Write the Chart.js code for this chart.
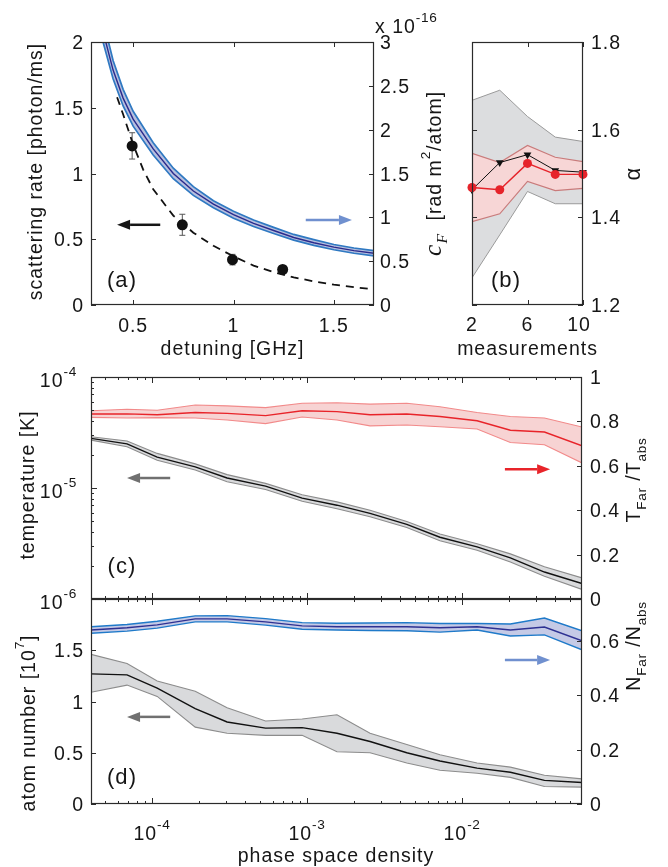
<!DOCTYPE html>
<html>
<head>
<meta charset="utf-8">
<script src="https://cdn.jsdelivr.net/npm/chart.js@4.4.1/dist/chart.umd.min.js"></script>
<style>
  html, body { margin: 0; padding: 0; background: #fff; }
  #fig { position: relative; width: 668px; height: 867px; overflow: hidden; }
  #fig canvas { position: absolute; }
</style>
</head>
<body>
<div id="fig">
  <canvas id="cA" width="455" height="365" style="left:0;top:0"></canvas>
  <canvas id="cB" width="213" height="365" style="left:455px;top:0"></canvas>
  <canvas id="cC" width="668" height="270" style="left:0;top:350px"></canvas>
  <canvas id="cD" width="668" height="287" style="left:0;top:580px"></canvas>
</div>
<script>
// ── (a) scattering rate / c_F vs detuning ─────────
const cfDetuning = [0.35, 0.40, 0.45, 0.50, 0.60, 0.70, 0.80, 0.90, 1.00, 1.10, 1.20, 1.30, 1.40, 1.50, 1.60, 1.70];
const cfMid  = [3.12, 2.68, 2.36, 2.12, 1.78, 1.50, 1.30, 1.15, 1.03, 0.93, 0.85, 0.77, 0.71, 0.66, 0.62, 0.59];
const cfHigh = [3.25, 2.79, 2.46, 2.21, 1.85, 1.56, 1.35, 1.19, 1.07, 0.97, 0.885, 0.805, 0.745, 0.69, 0.65, 0.62];
const cfLow  = [3.00, 2.58, 2.27, 2.04, 1.71, 1.44, 1.25, 1.11, 0.99, 0.895, 0.815, 0.74, 0.68, 0.63, 0.59, 0.56];
const fitDetuning = [0.42, 0.45, 0.50, 0.55, 0.60, 0.70, 0.80, 0.90, 1.00, 1.10, 1.20, 1.30, 1.40, 1.50, 1.60, 1.70];
const fitRate     = [1.58, 1.45, 1.22, 1.03, 0.88, 0.68, 0.55, 0.45, 0.37, 0.30, 0.25, 0.21, 0.18, 0.155, 0.135, 0.12];
const measDetuning = [0.495, 0.745, 0.995, 1.245];
const measRate     = [1.21, 0.61, 0.345, 0.27];
const measErr      = [0.10, 0.08, 0.04, 0.03];
const aTicksX = [0.5, 1, 1.5];
const aTicksL = [0, 0.5, 1, 1.5, 2];
const aTicksR = [0, 0.5, 1, 1.5, 2, 2.5, 3];

// ── (b) alpha vs number of measurements ───────────
const nMeas       = [2, 4, 6, 8, 10];
const alphaRed    = [1.468, 1.463, 1.523, 1.498, 1.498];
const alphaRedHi  = [1.546, 1.525, 1.564, 1.537, 1.527];
const alphaRedLo  = [1.390, 1.408, 1.482, 1.461, 1.466];
const alphaBlack  = [1.463, 1.525, 1.543, 1.507, 1.503];
const alphaGrayHi = [1.667, 1.690, 1.630, 1.583, 1.573];
const alphaGrayLo = [1.262, 1.360, 1.459, 1.431, 1.431];
const bTicksX = [2, 6, 10];
const bTicksR = [1.2, 1.4, 1.6, 1.8];

// ── (c),(d) vs phase space density ────────────────
const psd = [4.04e-5, 6.9e-5, 1.08e-4, 1.9e-4, 3.05e-4, 5.4e-4, 9.3e-4, 1.56e-3, 2.55e-3, 4.4e-3, 7.2e-3, 1.25e-2, 2.05e-2, 3.4e-2, 5.94e-2];
const tempMid  = [2.8e-5, 2.5e-5, 1.9e-5, 1.55e-5, 1.23e-5, 1.04e-5, 8.1e-6, 7.0e-6, 5.9e-6, 4.7e-6, 3.6e-6, 2.95e-6, 2.35e-6, 1.75e-6, 1.38e-6];
const tempHigh = [2.9e-5, 2.65e-5, 2.05e-5, 1.65e-5, 1.32e-5, 1.1e-5, 8.7e-6, 7.5e-6, 6.3e-6, 5.0e-6, 3.85e-6, 3.15e-6, 2.55e-6, 1.95e-6, 1.55e-6];
const tempLow  = [2.7e-5, 2.35e-5, 1.78e-5, 1.45e-5, 1.14e-5, 9.7e-6, 7.6e-6, 6.5e-6, 5.5e-6, 4.4e-6, 3.35e-6, 2.75e-6, 2.15e-6, 1.6e-6, 1.22e-6];
const tRatioMid  = [0.833, 0.834, 0.830, 0.840, 0.836, 0.826, 0.848, 0.844, 0.830, 0.833, 0.822, 0.803, 0.760, 0.752, 0.690];
const tRatioHigh = [0.848, 0.855, 0.850, 0.874, 0.870, 0.862, 0.882, 0.884, 0.878, 0.882, 0.866, 0.840, 0.822, 0.815, 0.775];
const tRatioLow  = [0.818, 0.815, 0.817, 0.815, 0.806, 0.790, 0.820, 0.806, 0.780, 0.784, 0.776, 0.766, 0.705, 0.695, 0.613];
const atomMid  = [1.27, 1.26, 1.13, 0.93, 0.80, 0.74, 0.745, 0.69, 0.61, 0.50, 0.42, 0.35, 0.31, 0.23, 0.21];
const atomHigh = [1.46, 1.37, 1.20, 1.10, 0.94, 0.81, 0.83, 0.87, 0.69, 0.58, 0.48, 0.40, 0.36, 0.28, 0.245];
const atomLow  = [1.09, 1.16, 1.05, 0.75, 0.69, 0.67, 0.67, 0.51, 0.50, 0.40, 0.33, 0.30, 0.26, 0.17, 0.165];
const nRatioMid  = [0.640, 0.648, 0.659, 0.681, 0.681, 0.670, 0.655, 0.652, 0.652, 0.652, 0.648, 0.652, 0.640, 0.651, 0.600];
const nRatioHigh = [0.652, 0.660, 0.672, 0.692, 0.693, 0.682, 0.667, 0.665, 0.666, 0.667, 0.664, 0.664, 0.662, 0.684, 0.637];
const nRatioLow  = [0.628, 0.636, 0.647, 0.670, 0.670, 0.658, 0.643, 0.640, 0.638, 0.637, 0.632, 0.640, 0.618, 0.622, 0.567];
const psdTickExp  = [-4, -3, -2];
const tempTickExp = [-6, -5, -4];
const cTicksR = [0, 0.2, 0.4, 0.6, 0.8, 1];
const dTicksL = [0, 0.5, 1, 1.5];
const dTicksR = [0, 0.2, 0.4, 0.6];

// ── helpers ───────────────────────────────────────
const FONT = '"Liberation Sans", Arial, Helvetica, sans-serif';
const SERIF = '"Liberation Serif", "DejaVu Serif", serif';
const INK = '#161616';
const AXIS = '#2b2b2b';
const FS = 19.5;

// parti di testo: [testo, tipo] con tipo '' | 'sup' | 'sub' | 'math' | 'mathsub'
function rich(ctx, parts, x, y, size, opts = {}) {
  const align = opts.align || 'center';
  const spec = k => {
    if (k === 'sup') return { s: size * 0.7, dy: -size * 0.58, f: FONT, st: '' };
    if (k === 'sub') return { s: size * 0.7, dy: size * 0.3, f: FONT, st: '' };
    if (k === 'math') return { s: size * 1.3, dy: 0, f: SERIF, st: 'italic' };
    if (k === 'mathsub') return { s: size * 0.8, dy: size * 0.32, f: SERIF, st: 'italic' };
    return { s: size, dy: 0, f: FONT, st: '' };
  };
  ctx.save();
  ctx.translate(x, y);
  if (opts.rotate) ctx.rotate(opts.rotate);
  ctx.fillStyle = opts.color || INK;
  ctx.textBaseline = 'alphabetic';
  ctx.textAlign = 'left';
  let w = 0;
  const items = parts.map(([t, k]) => {
    const sp = spec(k);
    ctx.font = `${sp.st} ${sp.s}px ${sp.f}`;
    ctx.letterSpacing = (sp.s * 0.05).toFixed(2) + 'px';
    const tw = ctx.measureText(t).width;
    w += tw;
    return { t, sp, tw };
  });
  let cx = align === 'center' ? -w / 2 : align === 'right' ? -w : 0;
  const base = size * 0.36;
  items.forEach(it => {
    ctx.font = `${it.sp.st} ${it.sp.s}px ${it.sp.f}`;
    ctx.letterSpacing = (it.sp.s * 0.05).toFixed(2) + 'px';
    ctx.fillText(it.t, cx, base + it.sp.dy);
    cx += it.tw;
  });
  ctx.restore();
}

function frame(ctx, a) {
  ctx.save();
  ctx.strokeStyle = AXIS;
  ctx.lineWidth = 1.2;
  ctx.strokeRect(a.left + 0.5, a.top + 0.5, a.right - a.left - 1, a.bottom - a.top - 1);
  ctx.restore();
}

function seg(ctx, x1, y1, x2, y2) {
  ctx.beginPath(); ctx.moveTo(x1, y1); ctx.lineTo(x2, y2); ctx.stroke();
}

function ticksX(ctx, scale, a, values, len, sides) {
  ctx.save(); ctx.strokeStyle = AXIS; ctx.lineWidth = 1;
  values.forEach(v => {
    const p = Math.round(scale.getPixelForValue(v)) + 0.5;
    if (sides.includes('bottom')) seg(ctx, p, a.bottom, p, a.bottom - len);
    if (sides.includes('top')) seg(ctx, p, a.top, p, a.top + len);
  });
  ctx.restore();
}

function ticksY(ctx, scale, a, values, len, sides) {
  ctx.save(); ctx.strokeStyle = AXIS; ctx.lineWidth = 1;
  values.forEach(v => {
    const p = Math.round(scale.getPixelForValue(v)) + 0.5;
    if (sides.includes('left')) seg(ctx, a.left, p, a.left + len, p);
    if (sides.includes('right')) seg(ctx, a.right, p, a.right - len, p);
  });
  ctx.restore();
}

// tacche minori logaritmiche (2..9 x 10^n) dentro il range della scala
function logMinor(scale) {
  const out = [];
  for (let n = -7; n <= 0; n++) {
    for (let k = 2; k <= 9; k++) {
      const v = k * Math.pow(10, n);
      if (v > scale.min && v < scale.max) out.push(v);
    }
  }
  return out;
}

function arrow(ctx, x1, x2, y, color) {
  const dir = Math.sign(x2 - x1), head = 13, hw = 5;
  ctx.save();
  ctx.strokeStyle = color; ctx.fillStyle = color; ctx.lineWidth = 2.5;
  seg(ctx, x1, y, x2 - dir * head, y);
  ctx.beginPath();
  ctx.moveTo(x2, y);
  ctx.lineTo(x2 - dir * head, y - hw);
  ctx.lineTo(x2 - dir * head, y + hw);
  ctx.closePath();
  ctx.fill();
  ctx.restore();
}

const pts = (xs, ys) => xs.map((x, i) => ({ x, y: ys[i] }));
function lineDs(xs, ys, axis, color, width, extra) {
  return Object.assign({
    data: pts(xs, ys), yAxisID: axis, borderColor: color, borderWidth: width,
    pointRadius: 0, fill: false, tension: 0
  }, extra || {});
}

function panel(id, pad, scales, datasets, draw, before) {
  return new Chart(document.getElementById(id), {
    type: 'line',
    data: { datasets },
    options: {
      responsive: false,
      animation: false,
      events: [],
      layout: { padding: pad },
      plugins: { legend: { display: false }, tooltip: { enabled: false } },
      scales
    },
    plugins: [{
      id: 'decor',
      beforeDatasetsDraw: c => { if (before) before(c, c.ctx); },
      afterDraw: c => draw(c, c.ctx)
    }]
  });
}

const ROT = -Math.PI / 2;
const pow10 = e => [['10', ''], [String(e), 'sup']];

// ── (a) ───────────────────────────────────────────
panel('cA', { left: 91, top: 42, right: 81, bottom: 60 }, {
  x:  { type: 'linear', display: false, min: 0.29, max: 1.7 },
  y:  { type: 'linear', display: false, min: 0, max: 2 },
  yR: { type: 'linear', display: false, min: 0, max: 3 }
}, [
  lineDs(measDetuning, measRate, 'y', '#111', 0, { showLine: false, pointRadius: 5.5, pointBackgroundColor: '#111', pointBorderWidth: 0 }),
  lineDs(fitDetuning, fitRate, 'y', '#111', 1.8, { borderDash: [8, 6] }),
  lineDs(cfDetuning, cfMid, 'yR', '#2a2a8c', 1.4),
  lineDs(cfDetuning, cfHigh, 'yR', '#2f79c2', 1.7),
  lineDs(cfDetuning, cfLow, 'yR', '#2f79c2', 1.7, { fill: '-1', backgroundColor: '#b7c0df' })
], (c, ctx) => {
  const a = c.chartArea, x = c.scales.x, yl = c.scales.y, yr = c.scales.yR;
  frame(ctx, a);
  ticksX(ctx, x, a, aTicksX, 5, ['top', 'bottom']);
  ticksY(ctx, yl, a, aTicksL, 5, ['left']);
  ticksY(ctx, yr, a, aTicksR, 5, ['right']);
  aTicksX.forEach(v => rich(ctx, [[String(v), '']], x.getPixelForValue(v), a.bottom + 20, FS));
  aTicksL.forEach(v => rich(ctx, [[String(v), '']], a.left - 7, yl.getPixelForValue(v), FS, { align: 'right' }));
  aTicksR.forEach(v => rich(ctx, [[String(v), '']], a.right + 6, yr.getPixelForValue(v), FS, { align: 'left' }));
  rich(ctx, [['x 10', ''], ['-16', 'sup']], a.right + 1, a.top - 16, FS, { align: 'left' });
  rich(ctx, [['scattering rate [photon/ms]', '']], 35, (a.top + a.bottom) / 2 - 2, FS, { rotate: ROT });
  rich(ctx, [['detuning [GHz]', '']], (a.left + a.right) / 2, a.bottom + 43, FS);
  rich(ctx, [['c', 'math'], ['F', 'mathsub'], ['  [rad m', ''], ['2', 'sup'], ['/atom]', '']], 434, (a.top + a.bottom) / 2, FS, { rotate: ROT });
  arrow(ctx, x.getPixelForValue(0.635), x.getPixelForValue(0.42), yl.getPixelForValue(0.61), '#161616');
  arrow(ctx, x.getPixelForValue(1.36), x.getPixelForValue(1.59), yr.getPixelForValue(0.97), '#7090cf');
  rich(ctx, [['(a)', '']], a.left + 31, a.bottom - 26, 22);
}, (c, ctx) => {
  const x = c.scales.x, yl = c.scales.y;
  ctx.save(); ctx.strokeStyle = '#555'; ctx.lineWidth = 1;
  measDetuning.forEach((d, i) => {
    const px = x.getPixelForValue(d);
    const y1 = yl.getPixelForValue(measRate[i] + measErr[i]);
    const y2 = yl.getPixelForValue(measRate[i] - measErr[i]);
    seg(ctx, px, y1, px, y2);
    seg(ctx, px - 3, y1, px + 3, y1);
    seg(ctx, px - 3, y2, px + 3, y2);
  });
  ctx.restore();
});

// ── (b) ───────────────────────────────────────────
panel('cB', { left: 17, top: 42, right: 85, bottom: 60 }, {
  x: { type: 'linear', display: false, min: 2, max: 10 },
  y: { type: 'linear', display: false, min: 1.2, max: 1.8 }
}, [
  lineDs(nMeas, alphaRed, 'y', '#e6232a', 1.4, { pointRadius: 4.5, pointBackgroundColor: '#e6232a', pointBorderWidth: 0, clip: false }),
  lineDs(nMeas, alphaBlack, 'y', '#111', 1, { pointRadius: 4.5, pointStyle: 'triangle', rotation: 180, pointBackgroundColor: '#111', pointBorderWidth: 0, clip: false }),
  lineDs(nMeas, alphaRedHi, 'y', '#c97b7b', 1.2),
  lineDs(nMeas, alphaRedLo, 'y', '#c97b7b', 1.2, { fill: '-1', backgroundColor: '#f7d6d6' }),
  lineDs(nMeas, alphaGrayHi, 'y', '#9a9a9a', 1),
  lineDs(nMeas, alphaGrayLo, 'y', '#9a9a9a', 1, { fill: '-1', backgroundColor: '#dcdddf' })
], (c, ctx) => {
  const a = c.chartArea, x = c.scales.x, y = c.scales.y;
  frame(ctx, a);
  ticksX(ctx, x, a, bTicksX, 5, ['top', 'bottom']);
  ticksY(ctx, y, a, bTicksR, 5, ['left', 'right']);
  bTicksX.forEach(v => rich(ctx, [[String(v), '']], x.getPixelForValue(v) - (v === 10 ? 4 : 0), a.bottom + 19, FS));
  bTicksR.forEach(v => rich(ctx, [[v.toFixed(1), '']], a.right + 8, y.getPixelForValue(v), FS, { align: 'left' }));
  rich(ctx, [['α', '']], 177, (a.top + a.bottom) / 2, 22, { rotate: ROT });
  rich(ctx, [['measurements', '']], (a.left + a.right) / 2, a.bottom + 43, FS);
  rich(ctx, [['(b)', '']], a.left + 34, a.bottom - 26, 22);
});

// ── (c) ───────────────────────────────────────────
panel('cC', { left: 91, top: 27, right: 86, bottom: 21 }, {
  x:  { type: 'logarithmic', display: false, min: 4.04e-5, max: 5.94e-2 },
  y:  { type: 'logarithmic', display: false, min: 1e-6, max: 1e-4 },
  yR: { type: 'linear', display: false, min: 0, max: 1 }
}, [
  lineDs(psd, tempMid, 'y', '#111', 1.4),
  lineDs(psd, tRatioMid, 'yR', '#e8242a', 1.4),
  lineDs(psd, tempHigh, 'y', '#8c8c8c', 1.1),
  lineDs(psd, tempLow, 'y', '#8c8c8c', 1.1, { fill: '-1', backgroundColor: '#d9dadc' }),
  lineDs(psd, tRatioHigh, 'yR', '#f28a8a', 1.1),
  lineDs(psd, tRatioLow, 'yR', '#f28a8a', 1.1, { fill: '-1', backgroundColor: '#f7d3d3' })
], (c, ctx) => {
  const a = c.chartArea, x = c.scales.x, y = c.scales.y, yr = c.scales.yR;
  frame(ctx, a);
  ticksX(ctx, x, a, psdTickExp.map(e => Math.pow(10, e)), 6, ['top', 'bottom']);
  ticksX(ctx, x, a, logMinor(x), 3, ['top', 'bottom']);
  ticksY(ctx, y, a, tempTickExp.map(e => Math.pow(10, e)), 6, ['left']);
  ticksY(ctx, y, a, logMinor(y), 3, ['left']);
  ticksY(ctx, yr, a, cTicksR, 5, ['right']);
  tempTickExp.forEach(e => rich(ctx, pow10(e), a.left - 14, y.getPixelForValue(Math.pow(10, e)) + 3, FS, { align: 'right' }));
  cTicksR.forEach(v => rich(ctx, [[String(v), '']], a.right + 8, yr.getPixelForValue(v), FS, { align: 'left' }));
  rich(ctx, [['temperature [K]', '']], 27, (a.top + a.bottom) / 2 - 3, FS, { rotate: ROT });
  rich(ctx, [['T', ''], ['Far', 'sub'], [' /', ''], ['T', ''], ['abs', 'sub']], 633, (a.top + a.bottom) / 2 - 8, FS, { rotate: ROT });
  arrow(ctx, x.getPixelForValue(1.31e-4), x.getPixelForValue(6.9e-5), y.getPixelForValue(1.23e-5), '#707070');
  arrow(ctx, x.getPixelForValue(1.89e-2), x.getPixelForValue(3.7e-2), yr.getPixelForValue(0.585), '#e8242a');
  rich(ctx, [['(c)', '']], a.left + 31, a.bottom - 34, 22);
});

// ── (d) ───────────────────────────────────────────
panel('cD', { left: 91, top: 19, right: 86, bottom: 63 }, {
  x:  { type: 'logarithmic', display: false, min: 4.04e-5, max: 5.94e-2 },
  y:  { type: 'linear', display: false, min: 0, max: 2 },
  yR: { type: 'linear', display: false, min: 0, max: 0.754 }
}, [
  lineDs(psd, atomMid, 'y', '#111', 1.4),
  lineDs(psd, nRatioMid, 'yR', '#2e3192', 1.4),
  lineDs(psd, atomHigh, 'y', '#8c8c8c', 1.1),
  lineDs(psd, atomLow, 'y', '#8c8c8c', 1.1, { fill: '-1', backgroundColor: '#d9dadc' }),
  lineDs(psd, nRatioHigh, 'yR', '#1f7ac9', 1.4),
  lineDs(psd, nRatioLow, 'yR', '#1f7ac9', 1.4, { fill: '-1', backgroundColor: '#c5cae6' })
], (c, ctx) => {
  const a = c.chartArea, x = c.scales.x, y = c.scales.y, yr = c.scales.yR;
  frame(ctx, a);
  ticksX(ctx, x, a, psdTickExp.map(e => Math.pow(10, e)), 6, ['top', 'bottom']);
  ticksX(ctx, x, a, logMinor(x), 3, ['top', 'bottom']);
  ticksY(ctx, y, a, dTicksL, 5, ['left']);
  ticksY(ctx, yr, a, dTicksR, 5, ['right']);
  psdTickExp.forEach(e => rich(ctx, pow10(e), x.getPixelForValue(Math.pow(10, e)), a.bottom + 29, FS));
  dTicksL.forEach(v => rich(ctx, [[String(v), '']], a.left - 7, y.getPixelForValue(v), FS, { align: 'right' }));
  dTicksR.forEach(v => rich(ctx, [[String(v), '']], a.right + 8, yr.getPixelForValue(v), FS, { align: 'left' }));
  rich(ctx, [['atom number [10', ''], ['7', 'sup'], [']', '']], 28, 143, FS, { rotate: ROT });
  rich(ctx, [['N', ''], ['Far', 'sub'], [' /', ''], ['N', ''], ['abs', 'sub']], 633, 66, FS, { rotate: ROT });
  rich(ctx, [['phase space density', '']], 336, a.bottom + 51, FS);
  arrow(ctx, x.getPixelForValue(1.31e-4), x.getPixelForValue(6.9e-5), y.getPixelForValue(0.85), '#707070');
  arrow(ctx, x.getPixelForValue(1.89e-2), x.getPixelForValue(3.7e-2), yr.getPixelForValue(0.53), '#7090cf');
  rich(ctx, [['(d)', '']], a.left + 31, a.bottom - 28, 22);
});
</script>
</body>
</html>
